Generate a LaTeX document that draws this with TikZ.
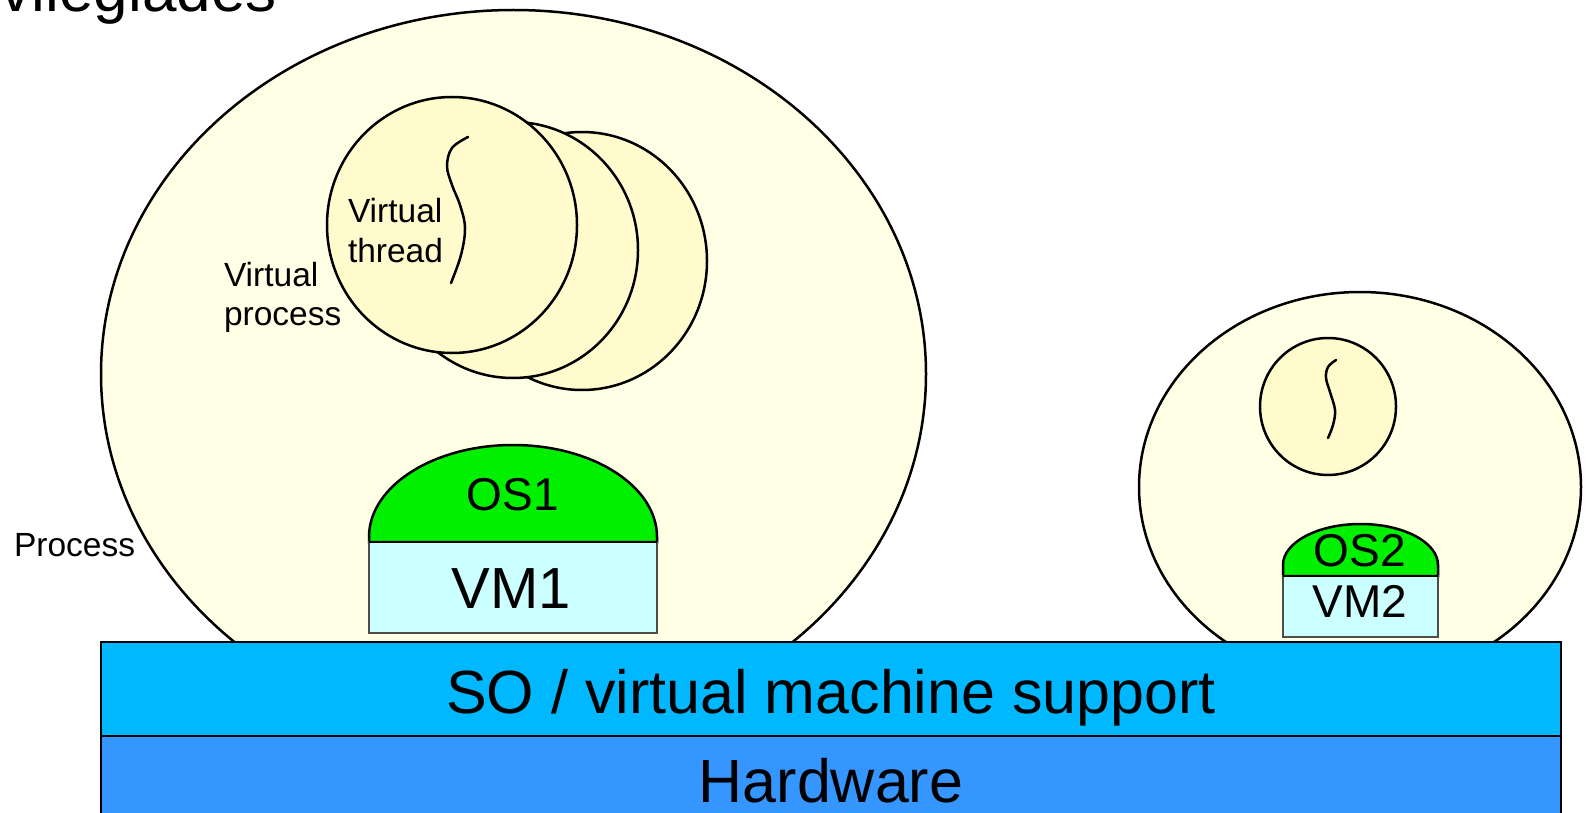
\documentclass[tikz,border=0pt]{standalone}
\usepackage{fontspec}
\setmainfont{Liberation Sans}
\definecolor{procfill}{HTML}{FFFFE5}
\definecolor{vpfill}{HTML}{FFFBCC}
\definecolor{osgreen}{HTML}{00F000}
\definecolor{vmcyan}{HTML}{CCFFFF}
\definecolor{soblue}{HTML}{00B8FF}
\definecolor{hwblue}{HTML}{3596FF}
\tikzset{
  procshape/.style={draw=black, line width=2.5pt, fill=procfill},
  vpshape/.style={draw=black, line width=2.5pt, fill=vpfill},
  threadline/.style={draw=black, line width=2.5pt, line cap=round},
  osshape/.style={draw=black, line width=2.5pt, fill=osgreen},
  vmshape/.style={draw=black!70, line width=1.5pt, fill=vmcyan},
  layer/.style={draw=black, line width=2.5pt},
  lbl/.style={inner sep=0pt, outer sep=0pt, text=black},
}
\newcommand{\fs}[1]{\fontsize{#1}{#1}\selectfont}
\begin{document}
\begin{tikzpicture}[x=1pt, y=-1pt]
\clip (0,0) rectangle (1588,813);
\fill[white] (0,0) rectangle (1588,813);

% title fragment
\node[lbl, anchor=base west] (title) at (1,12) {\fs{62}vilegiades};

% process 1
\path[procshape] (513.5,374) ellipse [x radius=412.5, y radius=364];
% virtual processes
\path[vpshape] (582,261) ellipse [x radius=125, y radius=129];
\path[vpshape] (513,250) ellipse [x radius=125, y radius=128];
\path[vpshape] (452,225) ellipse [x radius=125, y radius=128];
\draw[threadline] plot[smooth, tension=0.6] coordinates {(468,137) (452,148) (447,166) (452,185) (460,205) (465,228) (461,255) (451,283)};
% OS1 / VM1
\path[osshape] (369,542) -- (369,537) arc[start angle=180, end angle=360, x radius=144, y radius=92] -- (657,542) -- cycle;
\path[vmshape] (369,542) rectangle (657,633);
\draw[black, line width=2.5pt] (369,542) -- (657,542);

% process 2
\path[procshape] (1360,487) ellipse [x radius=221, y radius=195];
\path[vpshape] (1328,406.5) ellipse [x radius=68, y radius=68.5];
\draw[threadline] plot[smooth, tension=0.6] coordinates {(1336,360) (1328,367) (1326,378) (1330,392) (1335,410) (1333,425) (1328,438)};
% OS2 / VM2
\path[osshape] (1283,576) -- (1283,565) arc[start angle=180, end angle=360, x radius=77.5, y radius=41] -- (1438,576) -- cycle;
\path[vmshape] (1283,576) rectangle (1438,637);
\draw[black, line width=2.5pt] (1283,576) -- (1438,576);

% layers
\path[layer, fill=soblue] (101,642) rectangle (1561,736);
\path[layer, fill=hwblue] (101,736) rectangle (1561,840);

% labels
\node[lbl, anchor=base west, font=\fs{33.5}] (process) at (14,556) {Process};
\node[lbl, anchor=west, align=left, font={\fontsize{33.5}{39}\selectfont}] (vproc) at (224,297) {Virtual\\process};
\node[lbl, anchor=west, align=left, font={\fontsize{33.5}{40}\selectfont}] (vthread) at (348,231) {Virtual\\thread};
\node[lbl, font=\fs{46}] (os1) at (513,494.5) {OS1};
\node[lbl, font=\fs{58}] (vm1) at (511.5,589) {VM1};
\node[lbl, font=\fs{46}] (os2) at (1360,551) {OS2};
\node[lbl, font=\fs{46}] (vm2) at (1360,601.5) {VM2};
\node[lbl, anchor=base, font=\fs{61}] (so) at (831,713) {SO / virtual machine support};
\node[lbl, anchor=base, font=\fs{61}] (hw) at (831,802) {Hardware};
\end{tikzpicture}
\end{document}
